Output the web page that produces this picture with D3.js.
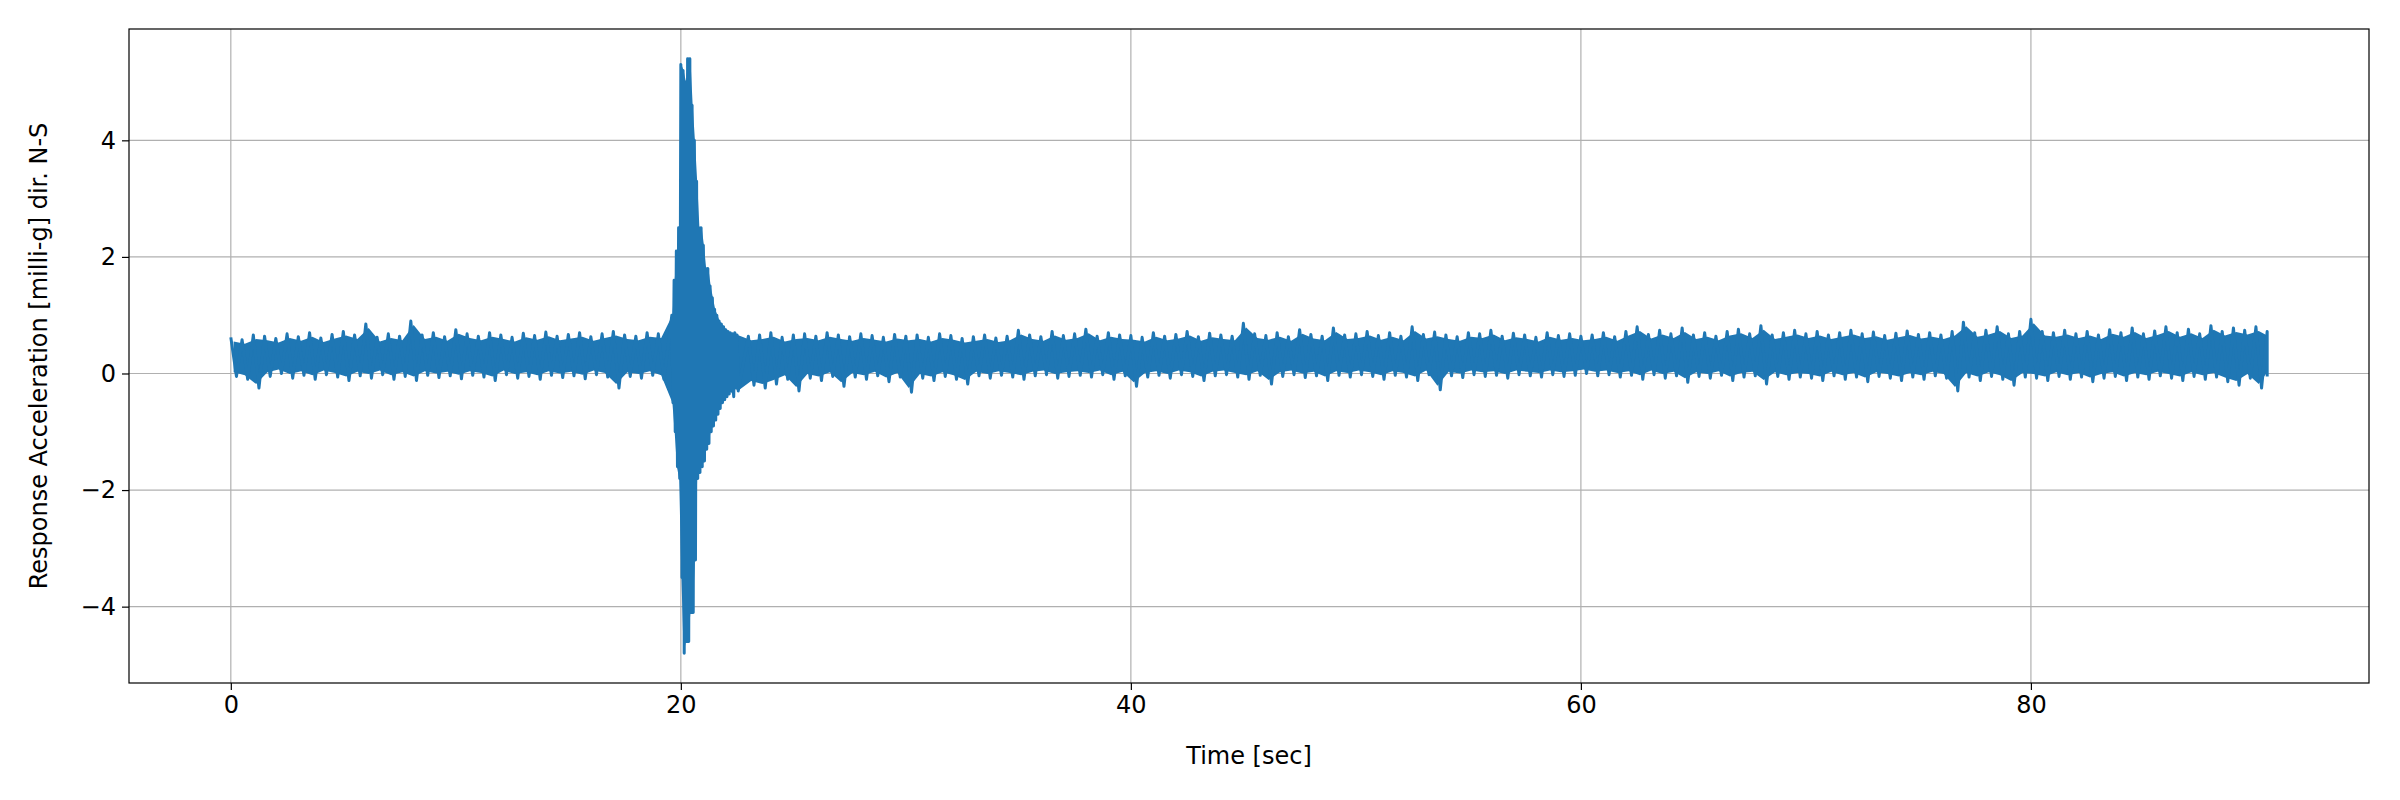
<!DOCTYPE html>
<html><head><meta charset="utf-8">
<script src="https://cdn.jsdelivr.net/npm/d3@7"></script>
<style>body{margin:0;background:#fff}</style></head>
<body><svg id="c" width="2400" height="800"></svg>
<script>
const xTicks=[0,20,40,60,80];
const yTicks=[-4,-2,0,2,4];
const binStep=0.5;
const baseHi=[0.62,0.58,0.66,0.64,0.60,0.68,0.63,0.70,0.61,0.67,0.72,0.66,0.85,0.62,0.68,0.64,0.90,0.66,0.70,0.63,
0.75,0.68,0.64,0.70,0.66,0.62,0.69,0.65,0.71,0.64,0.67,0.70,0.63,0.68,0.72,0.66,0.64,0.70,0.68,0.72,
0.7,0.7,0.7,0.7,0.7,0.68,0.64,0.66,0.70,0.62,0.66,0.68,0.64,0.70,0.66,0.63,0.68,0.65,0.62,0.67,
0.64,0.66,0.62,0.68,0.65,0.60,0.63,0.66,0.61,0.64,0.74,0.66,0.63,0.72,0.65,0.68,0.76,0.64,0.70,0.66,
0.65,0.62,0.70,0.64,0.67,0.72,0.63,0.69,0.66,0.64,0.86,0.68,0.65,0.70,0.63,0.75,0.67,0.64,0.78,0.66,
0.68,0.72,0.65,0.70,0.64,0.80,0.67,0.71,0.66,0.63,0.70,0.68,0.74,0.64,0.69,0.66,0.62,0.70,0.65,0.68,
0.64,0.66,0.70,0.63,0.72,0.80,0.67,0.74,0.68,0.78,0.66,0.70,0.64,0.72,0.76,0.68,0.82,0.66,0.70,0.74,
0.68,0.72,0.66,0.70,0.74,0.68,0.71,0.65,0.69,0.73,0.67,0.70,0.66,0.72,0.88,0.70,0.74,0.80,0.68,0.72,
0.93,0.72,0.70,0.74,0.68,0.72,0.66,0.75,0.70,0.78,0.68,0.73,0.80,0.70,0.76,0.68,0.82,0.72,0.78,0.74,0.80,0.72];
const baseLo=[-0.05,-0.10,-0.25,-0.05,0.00,-0.08,-0.03,-0.10,-0.02,-0.06,-0.12,-0.04,-0.08,-0.02,-0.10,-0.05,-0.12,-0.03,-0.07,-0.04,
-0.09,-0.03,-0.06,-0.12,-0.02,-0.08,-0.05,-0.10,-0.03,-0.07,-0.04,-0.09,-0.02,-0.06,-0.25,-0.05,-0.08,-0.03,-0.10,-0.06,
-0.3,-0.3,-0.3,-0.3,-0.3,-0.35,-0.20,-0.25,-0.18,-0.10,-0.30,-0.08,-0.12,-0.05,-0.22,-0.06,-0.10,-0.04,-0.14,-0.06,
-0.32,-0.08,-0.12,-0.05,-0.10,-0.18,-0.04,-0.08,-0.03,-0.06,-0.10,-0.04,-0.02,-0.08,-0.05,-0.03,-0.06,-0.02,-0.10,-0.04,
-0.22,-0.06,-0.03,-0.08,-0.02,-0.05,-0.12,-0.04,-0.02,-0.06,-0.10,-0.03,-0.18,-0.05,-0.02,-0.07,-0.04,-0.12,-0.03,-0.06,
-0.02,-0.05,-0.10,-0.03,-0.06,-0.12,-0.02,-0.28,-0.04,-0.07,-0.02,-0.05,-0.03,-0.08,-0.02,-0.04,-0.06,-0.02,-0.05,-0.03,
0.00,-0.04,-0.02,-0.06,-0.03,-0.10,-0.02,-0.08,-0.04,-0.15,-0.05,-0.08,-0.03,-0.12,-0.06,-0.04,-0.18,-0.05,-0.10,-0.06,
-0.08,-0.12,-0.04,-0.10,-0.06,-0.14,-0.05,-0.08,-0.12,-0.06,-0.10,-0.04,-0.08,-0.30,-0.06,-0.12,-0.05,-0.10,-0.20,-0.06,
-0.08,-0.12,-0.05,-0.10,-0.06,-0.14,-0.08,-0.05,-0.12,-0.06,-0.10,-0.04,-0.08,-0.12,-0.05,-0.10,-0.06,-0.14,-0.20,-0.08,-0.25,-0.05];
const burstStart=19.6, burstStep=0.1;
const burstHi=[1.0,1.6,2.1,2.5,5.3,5.2,5.0,5.4,5.4,4.6,4.0,3.3,2.5,2.5,2.2,1.8,1.8,1.5,1.3,1.1,1.0,0.9,0.85,0.8,0.75,0.72,0.7,0.68,0.7,0.66];
const burstLo=[-0.5,-1.0,-1.6,-1.8,-3.5,-4.8,-4.6,-4.6,-4.1,-4.1,-3.2,-1.8,-1.7,-1.6,-1.5,-1.3,-1.2,-1.0,-0.9,-0.8,-0.7,-0.6,-0.5,-0.45,-0.4,-0.35,-0.3,-0.4,-0.25,-0.3];
const tEnd=90.5;

const L=129,R=2369,T=29,B=683;
const x=d3.scaleLinear().domain([-4.525,95.025]).range([L,R]);
const y=d3.scaleLinear().domain([-5.31,5.91]).range([B,T]);
const svg=d3.select('#c');
const F='DejaVu Sans', FS=24;
const burstEnd=burstStart+burstStep*burstHi.length;
const bins=[];
baseHi.forEach((h,i)=>{const t=i*binStep; if(t<burstStart-0.25||t>=burstEnd) bins.push({t,h,l:baseLo[i],w:binStep});});
burstHi.forEach((h,i)=>bins.push({t:burstStart+i*burstStep,h,l:burstLo[i],w:burstStep}));
bins.sort((a,b)=>a.t-b.t);
const pts=[];
bins.forEach(b=>{pts.push([Math.min(b.t,tEnd),b.h]);pts.push([Math.min(b.t+b.w/2,tEnd),b.l]);});
const g=svg.append('g');
g.selectAll('.gx').data(xTicks).join('line').attr('x1',d=>x(d)).attr('x2',d=>x(d)).attr('y1',T).attr('y2',B).attr('stroke','#b0b0b0').attr('stroke-width',1.2);
g.selectAll('.gy').data(yTicks).join('line').attr('y1',d=>y(d)).attr('y2',d=>y(d)).attr('x1',L).attr('x2',R).attr('stroke','#b0b0b0').attr('stroke-width',1.2);
const col='#1f77b4';
const area=d3.area().x(d=>x(Math.min(d.t+d.w/4,tEnd))).y0(d=>y(d.l+(d.w<0.2?0:0.07))).y1(d=>y(d.h-(d.w<0.2?0:0.07)));
svg.append('path').datum(bins).attr('d',area).attr('fill',col);
svg.append('path').datum(pts).attr('d',d3.line().x(d=>x(d[0])).y(d=>y(d[1]))).attr('fill','none').attr('stroke',col).attr('stroke-width',3).attr('stroke-linejoin','round');
const ax=svg.append('g').attr('transform',`translate(0,${B})`).call(d3.axisBottom(x).tickValues(xTicks).tickSize(7).tickPadding(6));
const ay=svg.append('g').attr('transform',`translate(${L},0)`).call(d3.axisLeft(y).tickValues(yTicks).tickSize(7).tickPadding(6).tickFormat(d=>d<0?'\u2212'+(-d):d));
[ax,ay].forEach(a=>{a.select('.domain').remove();a.selectAll('text').attr('font-family',F).attr('font-size',FS).attr('fill','#000');a.selectAll('line').attr('stroke','#000').attr('stroke-width',1.2);});
svg.append('rect').attr('x',L).attr('y',T).attr('width',R-L).attr('height',B-T).attr('fill','none').attr('stroke','#000').attr('stroke-width',1.2);
svg.append('text').attr('x',(L+R)/2).attr('y',764).attr('text-anchor','middle').attr('font-family',F).attr('font-size',FS).text('Time [sec]');
svg.append('text').attr('transform',`translate(47,${(T+B)/2}) rotate(-90)`).attr('text-anchor','middle').attr('font-family',F).attr('font-size',FS).text('Response Acceleration [milli-g] dir. N-S');
</script></body></html>
